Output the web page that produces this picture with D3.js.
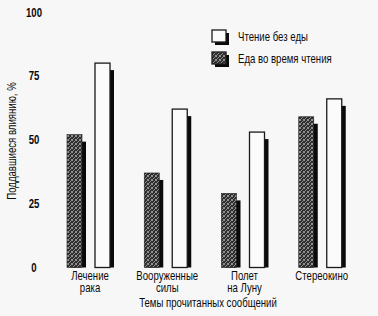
<!DOCTYPE html>
<html>
<head>
<meta charset="utf-8">
<script src="https://cdn.jsdelivr.net/npm/d3@7"></script>
<style>
  body { margin: 0; background: #f7f7f7; }
  svg text { font-family: "Liberation Sans", Arial, sans-serif; fill: #0a0a0a; }
</style>
</head>
<body>
<svg id="drawing_region"></svg>
<script>
// data
const categories = [["Лечение", "рака"], ["Вооруженные", "силы"], ["Полет", "на Луну"], ["Стереокино"]];
const series = ["Еда во время чтения", "Чтение без еды"];
const eating = [52, 37, 29, 59];
const noEating = [80, 62, 53, 66];
const yTicks = [0, 25, 50, 75, 100];

const width = 378, height = 316;
const margin = {top: 12, right: 17, bottom: 49, left: 52};
const narrow = 0.8;   // the source font is a condensed face

const svg = d3.select('#drawing_region')
    .attr('width', width)
    .attr('height', height);

svg.append('rect').attr('width', width).attr('height', height).attr('fill', '#f7f7f7');

// speckled fill for the dark bars
const defs = svg.append('defs');
const pat = defs.append('pattern')
    .attr('id', 'speckle')
    .attr('width', 4).attr('height', 4)
    .attr('patternUnits', 'userSpaceOnUse');
pat.append('rect').attr('width', 4).attr('height', 4).attr('fill', '#2e2e2e');
[[0,0],[2,1],[1,2],[3,3],[0,3],[3,0]].forEach(p => {
    pat.append('rect').attr('x', p[0]).attr('y', p[1]).attr('width', 1).attr('height', 1).attr('fill', '#909090');
});

function label(parent, x, y, str, size, weight, anchor, rotate) {
    return parent.append('text')
        .attr('transform', `translate(${x}, ${y})` + (rotate ? ` rotate(${rotate})` : '') + ` scale(${narrow}, 1)`)
        .attr('text-anchor', anchor || 'middle')
        .attr('font-size', size + 'px')
        .attr('font-weight', weight || 'normal')
        .text(str);
}

const inner_width = width - margin.left - margin.right;
const inner_height = height - margin.top - margin.bottom;

const chart = svg.append('g')
    .attr('transform', `translate(${margin.left}, ${margin.top})`);

const xscale = d3.scaleBand()
    .domain(categories.map(d => d.join(' ')))
    .range([0, inner_width]);

const sub = d3.scaleBand()
    .domain(series)
    .range([15, 58])
    .paddingInner(0.464);

const yscale = d3.scaleLinear()
    .domain([0, 100])
    .range([inner_height + 0.5, 0]);

// y tick labels (no axis line)
yTicks.forEach(t => {
    label(chart, -18, yscale(t) + 4.5, t, 12, 'bold');
});

// bars
const rows = [];
categories.forEach((c, i) => {
    rows.push({cat: c.join(' '), s: series[0], v: eating[i]});
    rows.push({cat: c.join(' '), s: series[1], v: noEating[i]});
});

const bw = sub.bandwidth();
const shX = 4, shY = 7;

chart.selectAll('rect.shadow').data(rows).enter()
    .append('rect')
    .attr('class', 'shadow')
    .attr('x', d => xscale(d.cat) + sub(d.s) + shX)
    .attr('y', d => yscale(d.v) + shY)
    .attr('width', bw)
    .attr('height', d => Math.max(0, yscale(0) - yscale(d.v) - shY))
    .attr('fill', '#0a0a0a');

chart.selectAll('rect.bar').data(rows).enter()
    .append('rect')
    .attr('class', 'bar')
    .attr('x', d => xscale(d.cat) + sub(d.s))
    .attr('y', d => yscale(d.v))
    .attr('width', bw)
    .attr('height', d => yscale(0) - yscale(d.v))
    .attr('fill', d => d.s === series[0] ? 'url(#speckle)' : '#fbfbfb')
    .attr('stroke', '#1a1a1a')
    .attr('stroke-width', d => d.s === series[0] ? 0.6 : 1.3);

// category labels
categories.forEach(c => {
    c.forEach((line, k) => {
        label(chart, xscale(c.join(' ')) + 38, inner_height + 13 + k * 12, line, 12);
    });
});

// axis titles
label(svg, 208, 307, 'Темы прочитанных сообщений', 12);
label(svg, 16, 141, 'Поддавшиеся влиянию, %', 12, 'normal', 'middle', -90);

// legend
const legend = svg.append('g').attr('transform', 'translate(212, 30)');
[series[1], series[0]].forEach((s, i) => {
    const g = legend.append('g').attr('transform', `translate(0, ${i * 22})`);
    g.append('rect').attr('x', 3).attr('y', 3).attr('width', 14).attr('height', 12).attr('fill', '#0a0a0a');
    g.append('rect').attr('width', 14).attr('height', 12)
        .attr('fill', s === series[0] ? 'url(#speckle)' : '#fbfbfb')
        .attr('stroke', '#1a1a1a').attr('stroke-width', 1.3);
    label(g, 26, 10.5, s, 12, 'normal', 'start');
});
</script>
</body>
</html>
